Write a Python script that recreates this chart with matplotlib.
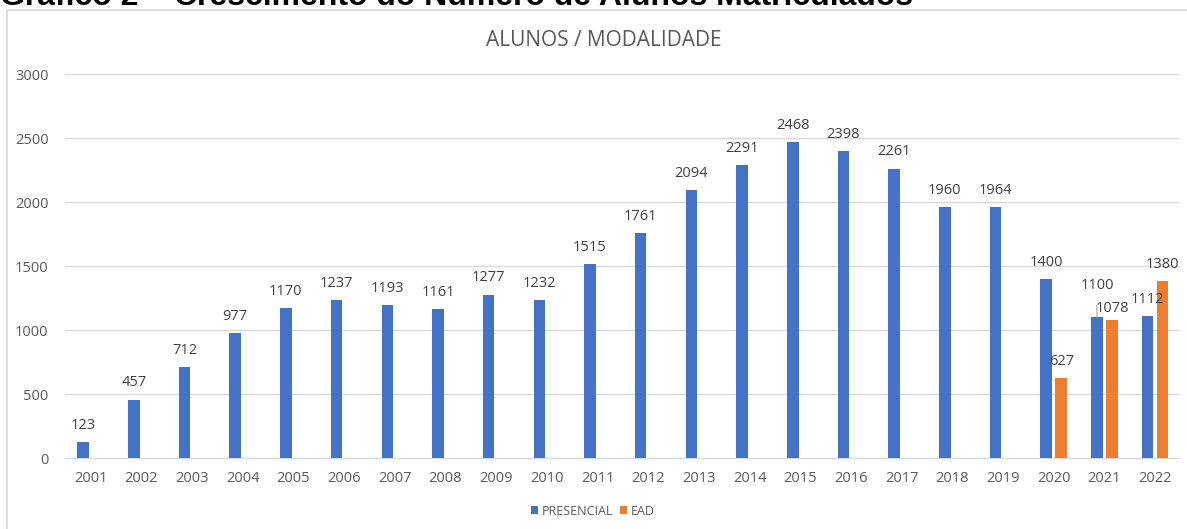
import matplotlib.pyplot as plt
import matplotlib.patches as mpatches
import numpy as np

anos = [str(a) for a in range(2001, 2023)]
presencial = [123, 457, 712, 977, 1170, 1237, 1193, 1161, 1277, 1232, 1515,
              1761, 2094, 2291, 2468, 2398, 2261, 1960, 1964, 1400, 1100, 1112]
ead = [None] * 19 + [627, 1078, 1380]

azul = '#4472C4'
laranja = '#ED7D31'
cinza = '#595959'

plt.rcParams['font.family'] = ['Open Sans', 'DejaVu Sans']

fig = plt.figure(figsize=(11.87, 5.29), dpi=100)
ax = fig.add_axes([0.055, 0.134, 0.9395, 0.726])

# moldura do grafico (lados direito e de baixo ficam fora da imagem)
fig.patches.append(mpatches.Rectangle((0.006, -0.05), 1.1, 1.031, transform=fig.transFigure,
                                      fill=False, edgecolor='#D9D9D9', linewidth=1.2))

# titulo do documento, cortado no topo como no original
fig.text(0.0, 1 - 5 / 529, 'Gráfico 2 – Crescimento do Número de Alunos Matriculados',
         family='Liberation Sans', fontweight='bold', fontsize=23, color='black',
         ha='left', va='baseline')

x = np.arange(len(anos))
w = 0.227
off = 0.148

ax.bar(x - off, presencial, w, color=azul, label='PRESENCIAL', zorder=3)
x_ead = [i for i, v in enumerate(ead) if v is not None]
v_ead = [v for v in ead if v is not None]
ax.bar(np.array(x_ead) + off, v_ead, w, color=laranja, label='EAD', zorder=3)

fs = 10.5
for i, v in enumerate(presencial):
    if anos[i] == '2021':
        ax.annotate(str(v), (i - off, v), xytext=(0, 23), textcoords='offset points',
                    ha='center', va='center', fontsize=fs, color='#404040',
                    arrowprops=dict(arrowstyle='-', color='#A6A6A6', lw=0.8,
                                    shrinkA=7, shrinkB=0))
    else:
        ax.annotate(str(v), (i - off, v), xytext=(0, 12), textcoords='offset points',
                    ha='center', va='center', fontsize=fs, color='#404040')
for i, v in zip(x_ead, v_ead):
    dy = 8.5 if v == 1078 else 12
    ax.annotate(str(v), (i + off, v), xytext=(0, dy), textcoords='offset points',
                ha='center', va='center', fontsize=fs, color='#404040')

ax.set_xlim(-0.5, len(anos) - 0.5)
ax.set_ylim(0, 3000)
ax.set_yticks(range(0, 3001, 500))
ax.set_xticks(x)
ax.set_xticklabels(anos)
ax.tick_params(axis='both', length=0, labelsize=10.5, colors=cinza)
ax.tick_params(axis='y', pad=12)
ax.tick_params(axis='x', pad=9)
ax.yaxis.grid(True, color='#D9D9D9', linewidth=1, zorder=0)
for s in ['top', 'right', 'left']:
    ax.spines[s].set_visible(False)
ax.spines['bottom'].set_color('#D9D9D9')

fig.text(604 / 1187, 1 - 41 / 529, 'ALUNOS / MODALIDADE', fontsize=15, color=cinza,
         ha='center', va='center')

ax.legend(loc='center', bbox_to_anchor=(0.473, -0.138), ncol=2, frameon=False,
          fontsize=9, labelcolor=cinza, handlelength=0.6, handleheight=0.6,
          handletextpad=0.3, columnspacing=0.5)

fig.savefig('out.png', dpi=100)
